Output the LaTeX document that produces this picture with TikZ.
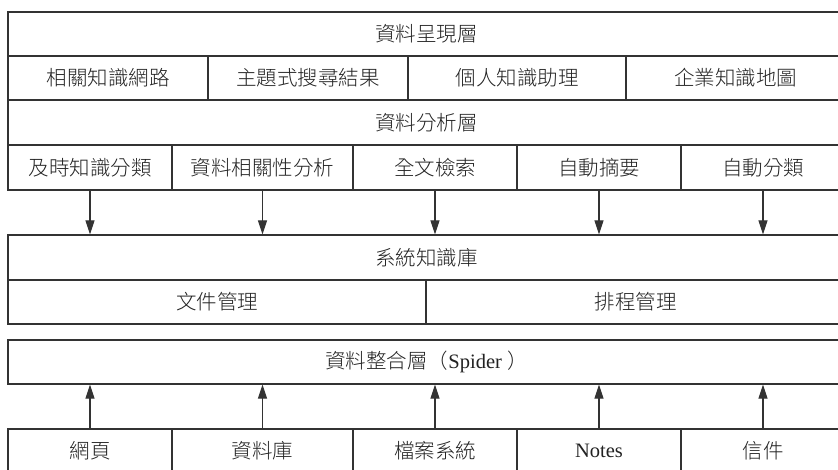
\documentclass[tikz,border=0pt]{standalone}
\usepackage{fontspec}
\newfontfamily\cjk{Noto Sans CJK TC Light}
\newfontfamily\lat{Liberation Serif}
\usetikzlibrary{arrows.meta}
\definecolor{ln}{HTML}{333333}
\definecolor{tx}{HTML}{222222}
\tikzset{
  cell/.style={draw=ln, line width=1.2pt, inner sep=0pt, text=tx,
    font=\cjk\fontsize{20.5}{23}\selectfont, anchor=center},
  flow/.style={draw=ln, line width=1.1pt, -{Triangle[length=14pt,width=9pt]}}
}
\begin{document}
\begin{tikzpicture}[x=1pt,y=-1pt]
\useasboundingbox (0,0) rectangle (838,469);
\clip (0,0) rectangle (838,469);
% layer 1: presentation
\node[cell, minimum width=837pt, minimum height=44pt] (pres) at (426.5,34) {資料呈現層};
\node[cell, minimum width=200pt, minimum height=44pt] (p1) at (108,78) {相關知識網路};
\node[cell, minimum width=200pt, minimum height=44pt] (p2) at (308,78) {主題式搜尋結果};
\node[cell, minimum width=218pt, minimum height=44pt] (p3) at (517,78) {個人知識助理};
\node[cell, minimum width=219pt, minimum height=44pt] (p4) at (735.5,78) {企業知識地圖};
% layer 2: analysis
\node[cell, minimum width=837pt, minimum height=45pt] (anal) at (426.5,122.5) {資料分析層};
\node[cell, minimum width=164pt, minimum height=45pt] (a1) at (90,167.5) {及時知識分類};
\node[cell, minimum width=181pt, minimum height=45pt] (a2) at (262.5,167.5) {資料相關性分析};
\node[cell, minimum width=164pt, minimum height=45pt] (a3) at (435,167.5) {全文檢索};
\node[cell, minimum width=164pt, minimum height=45pt] (a4) at (599,167.5) {自動摘要};
\node[cell, minimum width=164pt, minimum height=45pt] (a5) at (763,167.5) {自動分類};
% knowledge base
\node[cell, minimum width=837pt, minimum height=45pt] (kb) at (426.5,257.5) {系統知識庫};
\node[cell, minimum width=418pt, minimum height=44pt] (k1) at (217,302) {文件管理};
\node[cell, minimum width=419pt, minimum height=44pt] (k2) at (635.5,302) {排程管理};
% integration
\node[cell, minimum width=837pt, minimum height=44pt] (integ) at (426.5,362) {資料整合層（{\lat Spider }）};
% sources
\node[cell, minimum width=164pt, minimum height=44pt] (s1) at (90,451) {網頁};
\node[cell, minimum width=181pt, minimum height=44pt] (s2) at (262.5,451) {資料庫};
\node[cell, minimum width=164pt, minimum height=44pt] (s3) at (435,451) {檔案系統};
\node[cell, minimum width=164pt, minimum height=44pt] (s4) at (599,451) {\lat Notes};
\node[cell, minimum width=164pt, minimum height=44pt] (s5) at (763,451) {信件};
% arrows down
\foreach \n in {a1,a2,a3,a4,a5}
  \draw[flow] (\n.south) -- (\n.south |- kb.north);
% arrows up
\foreach \n in {s1,s2,s3,s4,s5}
  \draw[flow] (\n.north) -- (\n.north |- integ.south);
\end{tikzpicture}
\end{document}
